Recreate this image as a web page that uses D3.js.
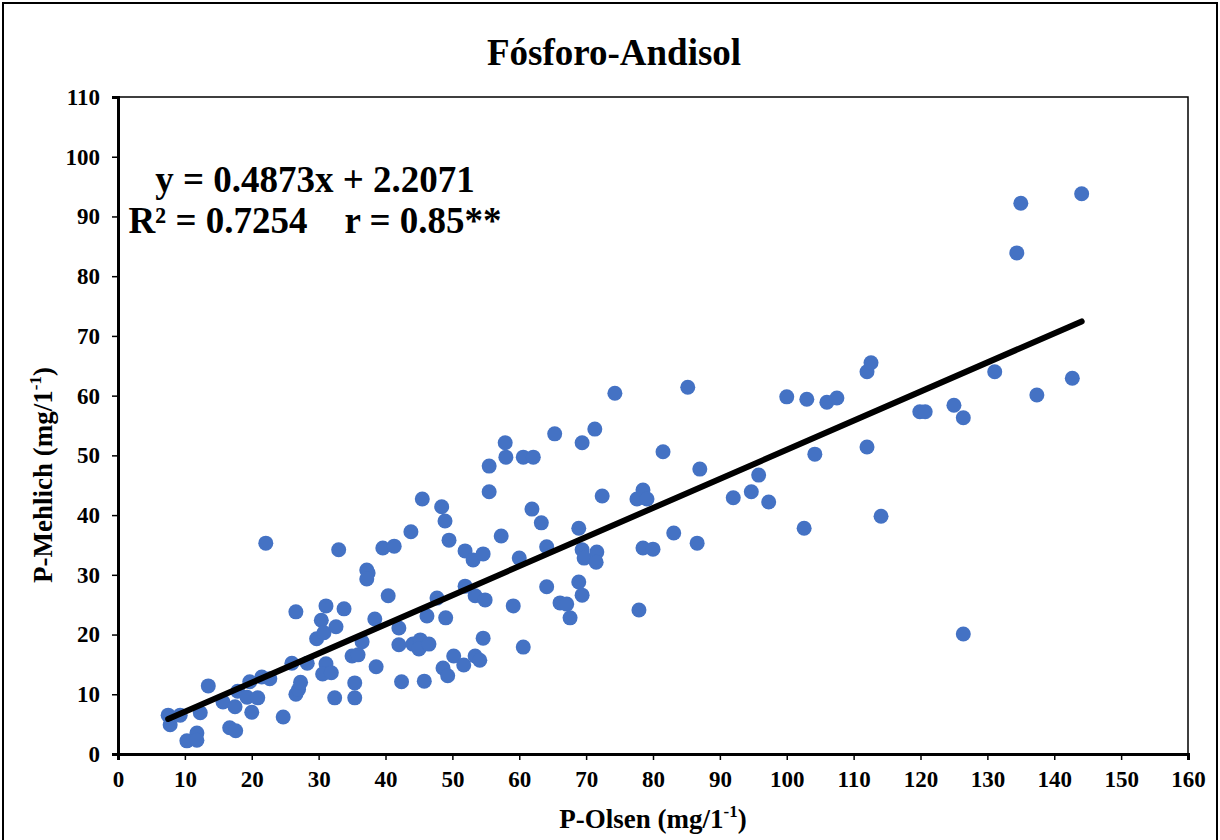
<!DOCTYPE html>
<html>
<head>
<meta charset="utf-8">
<script src="https://cdn.jsdelivr.net/npm/d3@7"></script>
<style>
  html, body { margin: 0; padding: 0; background: #fff; }
  svg { display: block; }
  text { font-family: "Liberation Serif", "Times New Roman", serif; font-weight: bold; fill: #000; }
</style>
</head>
<body>
<svg id="chart" width="1220" height="840"></svg>
<script>
// P-Olsen (x) against P-Mehlich (y), mg/1-1
const olsen = [
  7.5, 7.8, 9.3, 10.3, 11.8, 11.8, 12.3, 13.5, 15.7, 16.7,
  17.5, 17.6, 17.9, 19.3, 19.7, 20.0, 20.9, 21.5, 22.7, 22.1,
  24.7, 26.0, 26.6, 26.6, 27.0, 27.3, 28.3, 29.7, 30.4, 30.8,
  31.1, 31.1, 30.6, 31.9, 32.6, 32.4, 33.0, 33.8, 35.0, 35.9,
  35.4, 35.4, 36.5, 37.2, 37.4, 37.2, 38.4, 38.6, 39.6, 41.3,
  40.4, 42.0, 42.0, 42.4, 43.8, 44.1, 45.2, 45.0, 46.5, 45.8,
  45.5, 46.2, 47.7, 48.4, 48.9, 48.6, 49.3, 49.0, 49.5, 50.2,
  51.7, 51.9, 51.9, 53.1, 53.4, 53.4, 54.1, 54.6, 54.6, 54.9,
  55.5, 55.5, 57.3, 57.9, 58.0, 59.1, 60.0, 60.6, 60.6, 61.9,
  62.1, 63.3, 64.1, 64.1, 65.3, 66.1, 67.1, 67.6, 68.9, 68.9,
  69.4, 69.4, 69.7, 69.4, 71.3, 71.6, 71.5, 72.4, 74.3, 77.6,
  77.9, 78.5, 79.1, 78.5, 80.0, 81.5, 83.1, 85.2, 86.6, 87.0,
  92.0, 94.7, 95.8, 97.3, 100.0, 102.6, 103.0, 104.2, 106.0, 107.5,
  112.0, 112.0, 112.6, 114.1, 119.9, 120.7, 125.0, 126.4, 126.4, 131.1,
  134.4, 135.0, 137.4, 142.7, 144.1
];
const mehlich = [
  6.5, 4.9, 6.5, 2.2, 3.5, 2.3, 6.9, 11.4, 8.7, 4.4,
  7.9, 3.9, 10.5, 9.5, 12.1, 7.0, 9.4, 12.9, 12.6, 35.3,
  6.2, 15.2, 23.8, 10.0, 10.8, 12.0, 15.2, 19.3, 22.4, 20.3,
  24.8, 15.1, 13.4, 13.6, 21.3, 9.4, 34.2, 24.3, 16.4, 16.6,
  11.9, 9.4, 18.8, 30.8, 30.3, 29.3, 22.6, 14.6, 34.5, 34.8,
  26.5, 21.1, 18.3, 12.1, 37.2, 18.4, 19.1, 17.6, 18.4, 12.2,
  42.7, 23.1, 26.1, 41.4, 39.0, 14.4, 13.1, 22.8, 35.8, 16.4,
  14.9, 34.0, 28.1, 32.5, 26.5, 16.4, 15.7, 33.5, 19.4, 25.8,
  48.2, 43.9, 36.5, 52.1, 49.7, 24.8, 32.8, 49.7, 17.9, 41.0,
  49.7, 38.7, 34.7, 28.0, 53.6, 25.3, 25.1, 22.8, 37.8, 28.8,
  34.2, 26.6, 32.8, 52.1, 54.4, 33.8, 32.1, 43.2, 60.4, 42.7,
  24.1, 44.2, 42.7, 34.5, 34.3, 50.6, 37.0, 61.4, 35.3, 47.7,
  42.9, 43.9, 46.7, 42.2, 59.8, 37.8, 59.4, 50.2, 58.9, 59.6,
  51.4, 64.0, 65.5, 39.8, 57.3, 57.3, 58.4, 56.3, 20.1, 64.0,
  83.9, 92.2, 60.1, 62.9, 93.8
];

// Linear fit reported on the chart
const slope = 0.4873;
const intercept = 2.2071;

const xTicks = d3.range(0, 161, 10);
const yTicks = d3.range(0, 111, 10);

const titleText = "Fósforo-Andisol";
const eqLine1 = "y = 0.4873x + 2.2071";
const eqLine2 = "R² = 0.7254    r = 0.85**";

const svg = d3.select("#chart");

// Outer frame
svg.append("path")
  .attr("d", "M3,842 V3 H1217 V842")
  .attr("fill", "none").attr("stroke", "#000").attr("stroke-width", 2);

const x = d3.scaleLinear().domain([0, 160]).range([118, 1188]);
const y = d3.scaleLinear().domain([0, 110]).range([754, 97]);

// Plot area frame (top and right)
svg.append("path")
  .attr("d", `M${x(0)},${y(110)} H${x(160)} V${y(0)}`)
  .attr("fill", "none").attr("stroke", "#000").attr("stroke-width", 1.5);

// Title
svg.append("text")
  .attr("x", 614).attr("y", 65)
  .attr("text-anchor", "middle")
  .style("font-size", "37px")
  .text(titleText);

// Axes
const xAxis = svg.append("g")
  .attr("transform", `translate(0,${y(0)})`)
  .call(d3.axisBottom(x).tickValues(xTicks).tickSize(6).tickPadding(11).tickFormat(d3.format("d")));
const yAxis = svg.append("g")
  .attr("transform", `translate(${x(0)},0)`)
  .call(d3.axisLeft(y).tickValues(yTicks).tickSize(6).tickPadding(12).tickFormat(d3.format("d")));

[xAxis, yAxis].forEach(g => {
  g.select(".domain").attr("stroke", "#000").attr("stroke-width", 3);
  g.selectAll(".tick line").attr("stroke", "#000").attr("stroke-width", 1.5);
  g.selectAll(".tick text")
    .style("font-family", "'Liberation Serif', 'Times New Roman', serif")
    .style("font-weight", "bold")
    .style("font-size", "23px")
    .attr("fill", "#000");
});

// Points
const pts = olsen.map((v, i) => ({ x: v, y: mehlich[i] }));
svg.append("g")
  .selectAll("circle")
  .data(pts)
  .join("circle")
  .attr("cx", d => x(d.x))
  .attr("cy", d => y(d.y))
  .attr("r", 7.5)
  .attr("fill", "#4472C4");

// Trend line over the observed x-range
const xMin = d3.min(olsen), xMax = d3.max(olsen);
svg.append("line")
  .attr("x1", x(xMin)).attr("y1", y(slope * xMin + intercept))
  .attr("x2", x(xMax)).attr("y2", y(slope * xMax + intercept))
  .attr("stroke", "#000").attr("stroke-width", 6).attr("stroke-linecap", "round");

// Equation block
const eq = svg.append("text")
  .attr("text-anchor", "middle")
  .style("font-size", "37px");
eq.append("tspan").attr("x", 315).attr("y", 192).text(eqLine1);
eq.append("tspan").attr("x", 315).attr("y", 233).attr("xml:space", "preserve")
  .style("white-space", "pre").text(eqLine2);

// Axis titles
const xt = svg.append("text")
  .attr("x", 653).attr("y", 828)
  .attr("text-anchor", "middle")
  .style("font-size", "27px");
xt.append("tspan").text("P-Olsen (mg/1");
xt.append("tspan").attr("dy", -11).style("font-size", "17px").text("-1");
xt.append("tspan").attr("dy", 11).text(")");

const yt = svg.append("text")
  .attr("transform", "translate(52,475) rotate(-90)")
  .attr("text-anchor", "middle")
  .style("font-size", "27px");
yt.append("tspan").text("P-Mehlich (mg/1");
yt.append("tspan").attr("dy", -11).style("font-size", "17px").text("-1");
yt.append("tspan").attr("dy", 11).text(")");
</script>
</body>
</html>
